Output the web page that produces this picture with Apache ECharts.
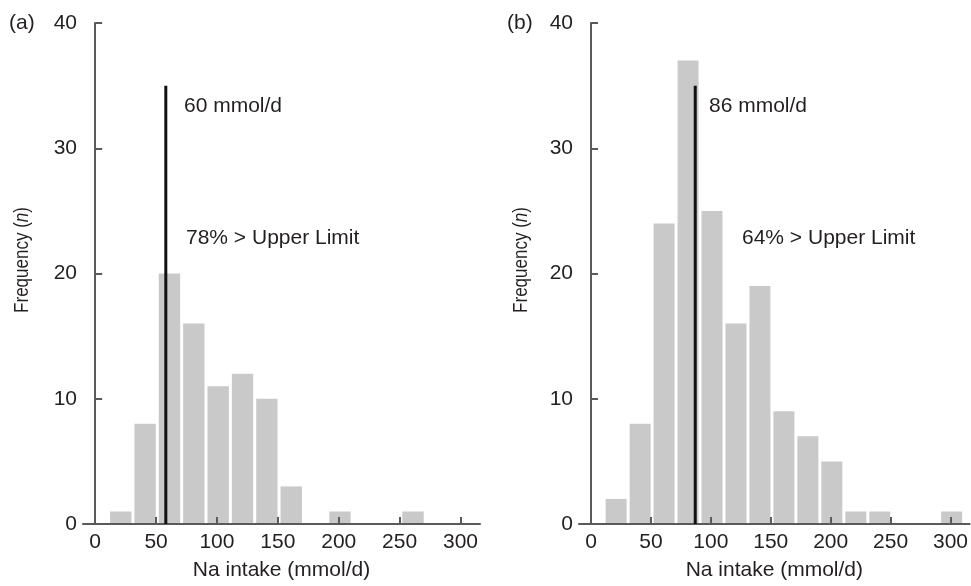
<!DOCTYPE html>
<html>
<head>
<meta charset="utf-8">
<script src="https://cdn.jsdelivr.net/npm/echarts@6/dist/echarts.min.js"></script>
<style>
    html, body {margin: 0; padding: 0; background: #fff;}
    #main {width: 971px; height: 586px;}
</style>
</head>
<body>
<div id="main"></div>
<script>
// 直方图的分组边界（mmol/d）
var binEdges = [11, 31, 51, 71, 91, 111, 131, 151, 171, 191, 211, 231, 251, 271, 291, 311];
// (a) 和 (b) 两组的频数
var countsA = [1, 8, 20, 16, 11, 12, 10, 3, 0, 1, 0, 0, 1, 0, 0];
var countsB = [2, 8, 24, 37, 25, 16, 19, 9, 7, 5, 1, 1, 0, 0, 1];
// 中位数竖线
var lineA = [[58, 0], [58, 35]];
var lineB = [[87, 0], [87, 35]];
var xTicks = [0, 50, 100, 150, 200, 250, 300];
var labelsA = ['60 mmol/d', '78% > Upper Limit'];
var labelsB = ['86 mmol/d', '64% > Upper Limit'];

var font = "'Liberation Sans', Arial, sans-serif";
var textColor = '#231f20';
var axisColor = '#5a5a5a';

function binData(counts) {
    var data = [];
    for (var i = 0; i < counts.length; i++) {
        if (counts[i] > 0) data.push([binEdges[i], binEdges[i + 1], counts[i]]);
    }
    return data;
}

function renderBar(params, api) {
    var p0 = api.coord([api.value(0), api.value(2)]);
    var p1 = api.coord([api.value(1), 0]);
    return {
        type: 'rect',
        shape: {x: p0[0] + 1.5, y: p0[1], width: p1[0] - p0[0] - 3, height: p1[1] - p0[1]},
        style: {fill: '#c9c9ca'}
    };
}

function xAxisOf(idx) {
    return {
        gridIndex: idx, type: 'value', min: -10, max: 316, z: 3,
        name: 'Na intake (mmol/d)', nameLocation: 'middle', nameGap: 36,
        nameTextStyle: {color: textColor, fontSize: 21, fontFamily: font},
        axisLine: {show: true, onZero: false, lineStyle: {color: axisColor, width: 2}},
        axisTick: {show: true, inside: true, length: 7, customValues: xTicks, lineStyle: {color: axisColor, width: 2}},
        axisLabel: {customValues: xTicks, margin: 8, color: textColor, fontSize: 21, fontFamily: font},
        splitLine: {show: false}
    };
}

function yAxisOf(idx) {
    return {
        gridIndex: idx, type: 'value', min: 0, max: 40, interval: 10, z: 3,
        axisLine: {show: true, lineStyle: {color: axisColor, width: 2}},
        axisTick: {show: true, inside: true, length: 7, lineStyle: {color: axisColor, width: 2}},
        axisLabel: {margin: 6, color: textColor, fontSize: 21, fontFamily: font},
        splitLine: {show: false}
    };
}

// 纵轴名称：原图被横向拉伸，这里压缩文字方向
function freqName(x) {
    return {
        type: 'text', x: x, y: 260, rotation: Math.PI / 2, scaleX: 0.85,
        style: {
            text: '{a|Frequency (}{i|n}{a|)}',
            align: 'center', verticalAlign: 'middle',
            rich: {
                a: {fontSize: 20, fontFamily: font, fill: textColor, color: textColor},
                i: {fontSize: 20, fontFamily: font, fontStyle: 'italic', fill: textColor, color: textColor}
            }
        }
    };
}

function note(x, y, text) {
    return {
        type: 'text', x: x, y: y,
        style: {text: text, fill: textColor, fontSize: 21, fontFamily: font, verticalAlign: 'middle'}
    };
}

var myChart = echarts.init(document.getElementById('main'));
var option = {
    backgroundColor: '#fff',
    animation: false,
    grid: [
        {left: 83, top: 23, width: 397, height: 504},
        {left: 579, top: 23, width: 396, height: 504}
    ],
    xAxis: [xAxisOf(0), xAxisOf(1)],
    yAxis: [yAxisOf(0), yAxisOf(1)],
    graphic: [
        note(9, 23, '(a)'),
        note(507, 23, '(b)'),
        freqName(22),
        freqName(521),
        note(184, 106, labelsA[0]),
        note(186, 238, labelsA[1]),
        note(709, 106, labelsB[0]),
        note(742, 238, labelsB[1])
    ],
    series: [
        {type: 'custom', xAxisIndex: 0, yAxisIndex: 0, renderItem: renderBar, data: binData(countsA), z: 2},
        {type: 'custom', xAxisIndex: 1, yAxisIndex: 1, renderItem: renderBar, data: binData(countsB), z: 2},
        {type: 'line', xAxisIndex: 0, yAxisIndex: 0, data: lineA, symbol: 'none', z: 5,
            lineStyle: {color: '#111', width: 3}},
        {type: 'line', xAxisIndex: 1, yAxisIndex: 1, data: lineB, symbol: 'none', z: 5,
            lineStyle: {color: '#111', width: 3}}
    ]
};
myChart.setOption(option);
</script>
</body>
</html>
